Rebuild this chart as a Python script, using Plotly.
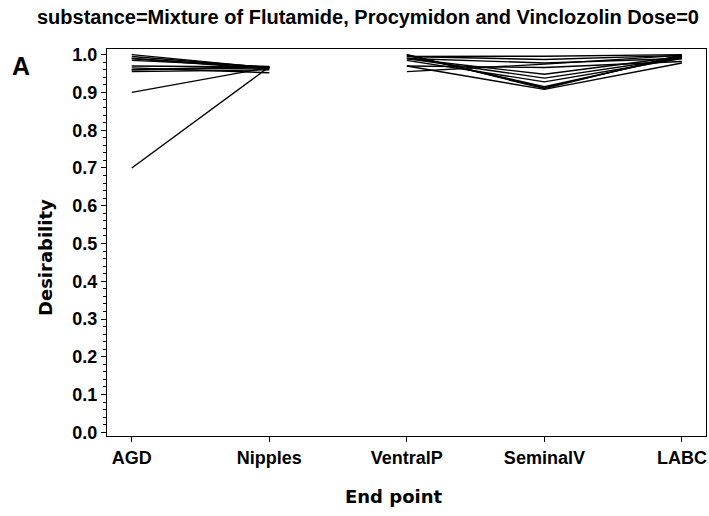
import plotly.graph_objects as go

# End points on the horizontal axis
endpoints = ["AGD", "Nipples", "VentralP", "SeminalV", "LABC"]

# First block of profiles: AGD -> Nipples
agd = [1.000, 0.995, 0.990, 0.990, 0.985, 0.970, 0.965, 0.960, 0.960, 0.955, 0.900, 0.700]
nipples = [0.965, 0.966, 0.966, 0.962, 0.968, 0.967, 0.952, 0.965, 0.969, 0.960, 0.966, 0.968]

# Second block of profiles: VentralP -> SeminalV -> LABC
ventralp = [1.000, 1.000, 0.998, 0.995, 0.995, 0.990, 0.990, 0.990, 0.985, 0.970, 0.970, 0.955]
seminalv = [0.910, 0.912, 0.915, 0.996, 0.987, 0.978, 0.948, 0.938, 0.928, 0.908, 0.966, 0.975]
labc = [1.000, 0.998, 0.995, 1.000, 0.998, 0.990, 0.995, 0.992, 0.990, 0.978, 0.982, 0.998]

title_text = "substance=Mixture of Flutamide, Procymidon and Vinclozolin Dose=0"
panel_label = "A"
x_title = "End point"
y_title = "Desirability"

fig = go.Figure()
line_style = dict(color="black", width=1.4)

for a, n in zip(agd, nipples):
    fig.add_trace(go.Scatter(x=[0, 1], y=[a, n], mode="lines", line=line_style,
                             showlegend=False, hoverinfo="skip"))

for v, s, l in zip(ventralp, seminalv, labc):
    fig.add_trace(go.Scatter(x=[2, 3, 4], y=[v, s, l], mode="lines", line=line_style,
                             showlegend=False, hoverinfo="skip"))

sans = "Liberation Sans, Arial, sans-serif"
tick_font = dict(family=sans, size=18, color="black", weight="bold")
axis_title_font = dict(family="DejaVu Sans, sans-serif", size=18, color="black")

# plot-area geometry in pixels (used for placing annotations)
L, R, T, B = 107, 706, 49, 436
W, H = 709, 516


def px(x):
    return (x - L) / (R - L)


def py(y):
    return (B - y) / (B - T)


fig.update_layout(
    width=W, height=H,
    margin=dict(l=L, r=W - R, t=T, b=H - B),
    paper_bgcolor="white", plot_bgcolor="white",
    xaxis=dict(
        range=[-0.18, 4.175], tickvals=list(range(len(endpoints))), ticktext=endpoints,
        showgrid=False, zeroline=False, showline=True, linecolor="black", linewidth=1,
        mirror=True, ticks="outside", ticklen=5, tickcolor="black", tickfont=tick_font,
    ),
    yaxis=dict(
        range=[-0.0098, 1.015], tickvals=[i / 10 for i in range(11)],
        ticktext=[f"{i / 10:.1f}" for i in range(11)],
        showgrid=False, zeroline=False, showline=True, linecolor="black", linewidth=1,
        mirror=True, ticks="outside", ticklen=5, tickcolor="black", tickfont=tick_font,
        minor=dict(dtick=0.02, tick0=0, ticks="outside", ticklen=3, tickcolor="black"),
    ),
    annotations=[
        dict(text="<b>" + title_text + "</b>", x=px(368), y=py(17), xref="paper", yref="paper",
             showarrow=False, xanchor="center", yanchor="middle",
             font=dict(family=sans, size=20, color="black")),
        dict(text="<b>" + panel_label + "</b>", x=px(21), y=py(66), xref="paper", yref="paper",
             showarrow=False, xanchor="center", yanchor="middle",
             font=dict(family=sans, size=25, color="black")),
        dict(text="<b>" + x_title + "</b>", x=px(393), y=py(497), xref="paper", yref="paper",
             showarrow=False, xanchor="center", yanchor="middle", font=axis_title_font),
        dict(text="<b>" + y_title + "</b>", x=px(45), y=py(258), xref="paper", yref="paper",
             showarrow=False, xanchor="center", yanchor="middle", textangle=-90,
             font=axis_title_font),
    ],
)

fig.write_html("out.html")
